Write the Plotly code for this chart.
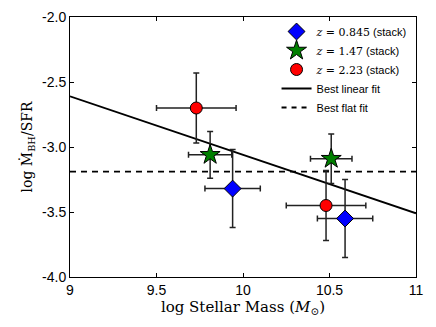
import plotly.graph_objects as go

# data
labels = ["0.845", "1.47", "2.23"]
mass_z1 = [9.94, 10.59]
ratio_z1 = [-3.32, -3.55]
xerr_z1 = [0.16, 0.16]
yerr_z1 = [0.30, 0.30]

mass_z2 = [9.81, 10.51]
ratio_z2 = [-3.06, -3.09]
xerr_z2 = [0.125, 0.12]
yerr_z2 = [0.18, 0.19]

mass_z3 = [9.73, 10.48]
ratio_z3 = [-2.70, -3.45]
xerr_z3 = [0.23, 0.23]
yerr_z3 = [0.27, 0.27]

fit_x = [9.0, 11.0]
linear_y = [-2.61, -3.51]
flat_y = [-3.19, -3.19]

xticks = [9, 9.5, 10, 10.5, 11]
xticklabels = ["9", "9.5", "10", "10.5", "11"]
yticks = [-4.0, -3.5, -3.0, -2.5, -2.0]
yticklabels = ["-4.0", "-3.5", "-3.0", "-2.5", "-2.0"]

SERIF = "DejaVu Serif"
SANS = "Liberation Sans"

def lab(z):
    return (f"<span style='font-family:{SERIF}'><i>z</i> = {z}</span> (stack)")

fig = go.Figure()

def add_pts(x, y, xe, ye, color, symbol, size, name):
    fig.add_trace(go.Scatter(
        x=x, y=y, mode="markers", name=name,
        marker=dict(symbol=symbol, size=size, color=color,
                    line=dict(color="black", width=1)),
        error_x=dict(type="data", array=xe, color="#222", thickness=1.5, width=3),
        error_y=dict(type="data", array=ye, color="#222", thickness=1.5, width=3),
    ))

fig.add_trace(go.Scatter(x=fit_x, y=linear_y, mode="lines", name="Best linear fit",
                         line=dict(color="black", width=1.8), showlegend=False))
fig.add_trace(go.Scatter(x=fit_x, y=flat_y, mode="lines", name="Best flat fit",
                         line=dict(color="black", width=1.8, dash="6px,5px"), showlegend=False))

add_pts(mass_z1, ratio_z1, xerr_z1, yerr_z1, "#0000ff", "diamond", 13, lab(labels[0]))
add_pts(mass_z2, ratio_z2, xerr_z2, yerr_z2, "#007f00", "star", 15, lab(labels[1]))
add_pts(mass_z3, ratio_z3, xerr_z3, yerr_z3, "#ff0000", "circle", 12, lab(labels[2]))

# legend-only line entries
fig.add_trace(go.Scatter(x=[None], y=[None], mode="lines", name="Best linear fit",
                         line=dict(color="black", width=1.8)))
fig.add_trace(go.Scatter(x=[None], y=[None], mode="lines", name="Best flat fit",
                         line=dict(color="black", width=1.8, dash="5px,5px")))

axis_common = dict(showline=True, linecolor="black", linewidth=1, mirror="ticks",
                   ticks="inside", ticklen=4, tickcolor="black", showgrid=False,
                   zeroline=False, automargin=False,
                   tickfont=dict(family=SANS, size=14, color="black"))

fig.update_xaxes(range=[9, 11], tickvals=xticks, ticktext=xticklabels,
                 title=dict(text="log Stellar Mass (<i>M</i><sub>⊙</sub>)",
                            font=dict(family=SERIF, size=15, color="black"), standoff=2),
                 **axis_common)
fig.update_yaxes(range=[-4, -2], tickvals=yticks, ticktext=yticklabels,
                 title=dict(text="log Ṁ<sub>BH</sub>/SFR",
                            font=dict(family=SERIF, size=14, color="black"), standoff=6),
                 **axis_common)

fig.update_layout(
    width=436, height=327,
    margin=dict(l=70, r=20, t=17, b=50, autoexpand=False),
    plot_bgcolor="white", paper_bgcolor="white",
    legend=dict(x=0.99, y=1.0, xanchor="right", yanchor="top",
                bgcolor="rgba(255,255,255,0)", borderwidth=0,
                font=dict(family=SANS, size=11, color="black"),
                tracegroupgap=0, itemwidth=30),
)

fig.write_html("out.html", config={"displayModeBar": False},
               post_script="document.body.style.margin='0';document.body.style.padding='0';")
